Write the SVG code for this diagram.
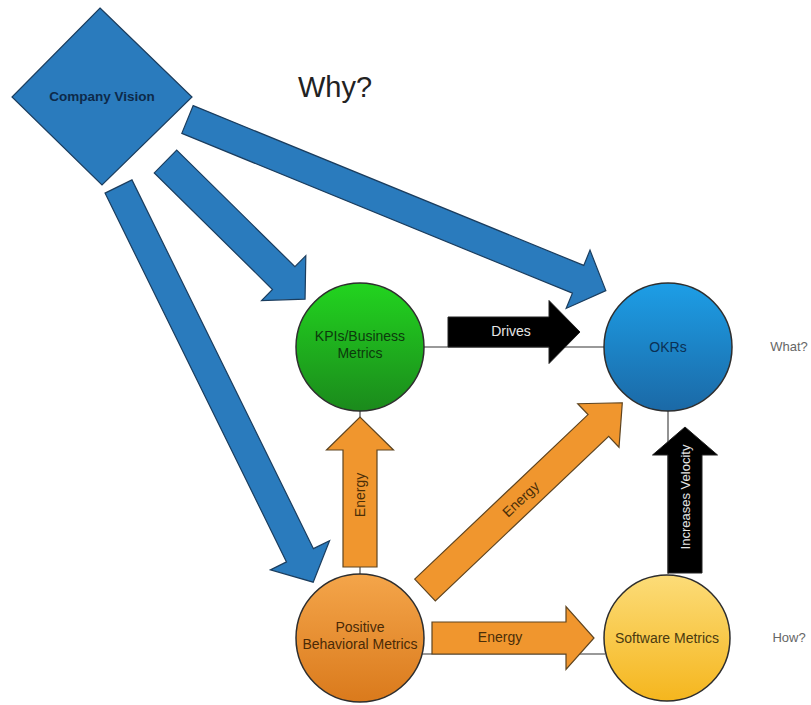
<svg xmlns="http://www.w3.org/2000/svg" width="811" height="705" viewBox="0 0 811 705">
  <style>
    .t { font-family: "Liberation Sans", Arial, sans-serif; text-anchor: middle; }
    .blue { fill: #2a7bbd; stroke: #1b3d5e; stroke-width: 1.2; }
    .orange { fill: #f0962e; stroke: #5e4420; stroke-width: 1.2; }
    .black { fill: #000; stroke: #222; stroke-width: 1; }
    .line { stroke: #777; stroke-width: 1.6; fill: none; }
    .circle { stroke: #2e2e2e; stroke-width: 1.5; }
    .ctext { font-size: 14px; }
    .atext { font-size: 14px; }
  </style>
  <defs>
    <linearGradient id="gGreen" x1="0" y1="0" x2="0" y2="1">
      <stop offset="0" stop-color="#22d41f"/>
      <stop offset="1" stop-color="#1b8a1c"/>
    </linearGradient>
    <linearGradient id="gBlue" x1="0" y1="0" x2="0" y2="1">
      <stop offset="0" stop-color="#1d9ee6"/>
      <stop offset="1" stop-color="#1b69a6"/>
    </linearGradient>
    <linearGradient id="gOrange" x1="0" y1="0" x2="0" y2="1">
      <stop offset="0" stop-color="#f4a54a"/>
      <stop offset="1" stop-color="#da7a1c"/>
    </linearGradient>
    <linearGradient id="gYellow" x1="0" y1="0" x2="0" y2="1">
      <stop offset="0" stop-color="#fcdc78"/>
      <stop offset="1" stop-color="#f5b61e"/>
    </linearGradient>
  </defs>

  <rect width="811" height="705" fill="#fff"/>

  <g id="connectors">
    <line class="line" x1="424" y1="347" x2="604" y2="347"/>
    <line class="line" x1="360" y1="411" x2="360" y2="574"/>
    <line class="line" x1="668" y1="411" x2="668" y2="574"/>
    <line class="line" x1="422" y1="654" x2="605" y2="654"/>

    <!-- blue arrows from Company Vision -->
    <polygon class="blue" transform="translate(187.5,119.5) rotate(22.25)" points="0,-15 422,-15 422,-31.5 452,0 422,31.5 422,15 0,15"/>
    <polygon class="blue" transform="translate(165.5,161.5) rotate(44.6)" points="0,-16 166,-16 166,-31.5 196,0 166,31.5 166,16 0,16"/>
    <polygon class="blue" transform="translate(118.5,186.5) rotate(63.8)" points="0,-15 411,-15 411,-33 441,0 411,33 411,15 0,15"/>

    <!-- Drives -->
    <g transform="translate(448,332)">
      <polygon class="black" points="0,-15 101,-15 101,-31.5 132,0 101,31.5 101,15 0,15"/>
      <text class="t atext" x="63" y="4" fill="#e6e6e6">Drives</text>
    </g>

    <!-- Energy vertical -->
    <g transform="translate(360,567) rotate(-90)">
      <polygon class="orange" points="0,-17 117,-17 117,-33.5 150,0 117,33.5 117,17 0,17"/>
      <text class="t atext" x="72" y="5" fill="#4a2e08">Energy</text>
    </g>

    <!-- Energy diagonal -->
    <g transform="translate(425,590) rotate(-43.5)">
      <polygon class="orange" points="0,-15 239,-15 239,-30 272,0 239,30 239,15 0,15"/>
      <text class="t atext" x="132" y="5" fill="#4a2e08">Energy</text>
    </g>

    <!-- Energy horizontal -->
    <g transform="translate(432,638)">
      <polygon class="orange" points="0,-16 134,-16 134,-31.5 162,0 134,31.5 134,16 0,16"/>
      <text class="t atext" x="68" y="4" fill="#4a2e08">Energy</text>
    </g>

    <!-- Increases Velocity -->
    <g transform="translate(685,573) rotate(-90)">
      <polygon class="black" points="0,-17 118,-17 118,-32.5 146,0 118,32.5 118,17 0,17"/>
      <text class="t" x="76" y="5" font-size="13" fill="#e6e6e6">Increases Velocity</text>
    </g>
  </g>

  <g id="company-vision">
    <polygon class="blue" points="100,8 192,97 102,185 12,97"/>
    <text class="t" x="102" y="101" font-size="13.5" font-weight="bold" fill="#0d2a4a">Company Vision</text>
  </g>

  <g id="why">
    <text class="t" x="335" y="97" font-size="29" fill="#222">Why?</text>
  </g>

  <g id="kpis">
    <circle class="circle" cx="360" cy="347" r="64" fill="url(#gGreen)"/>
    <text class="t ctext" x="360" y="341" fill="#0c3a0c">KPIs/Business</text>
    <text class="t ctext" x="360" y="358" fill="#0c3a0c">Metrics</text>
  </g>

  <g id="okrs">
    <circle class="circle" cx="668" cy="347" r="64" fill="url(#gBlue)"/>
    <text class="t ctext" x="668" y="352" fill="#0b3054">OKRs</text>
  </g>

  <g id="positive">
    <circle class="circle" cx="360" cy="638" r="64" fill="url(#gOrange)"/>
    <text class="t ctext" x="360" y="632" fill="#4a2a06">Positive</text>
    <text class="t ctext" x="360" y="649" fill="#4a2a06">Behavioral Metrics</text>
  </g>

  <g id="software">
    <circle class="circle" cx="667" cy="638" r="63" fill="url(#gYellow)"/>
    <text class="t ctext" x="667" y="643" fill="#4a3a10">Software Metrics</text>
  </g>

  <g id="what">
    <text class="t" x="789" y="351" font-size="13" fill="#666">What?</text>
  </g>
  <g id="how">
    <text class="t" x="789" y="642" font-size="13" fill="#666">How?</text>
  </g>
</svg>
